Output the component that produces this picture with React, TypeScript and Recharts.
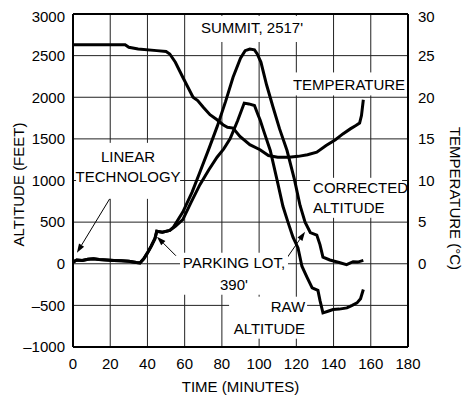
import {
  LineChart,
  Line,
  XAxis,
  YAxis,
  CartesianGrid,
  ReferenceLine,
  ReferenceDot,
} from 'recharts'

const FONT = '"Liberation Sans", Arial, sans-serif'

// ── data ───────────────────────────────────────────────────────────────────

const timeTicks = [0, 20, 40, 60, 80, 100, 120, 140, 160, 180]
const altTicks = [-1000, -500, 0, 500, 1000, 1500, 2000, 2500, 3000]
const tempTicks = [0, 5, 10, 15, 20, 25, 30]

// shared start (ground level + parking lot)
const startTime = [0, 2, 5, 8, 11, 14, 18, 22, 26, 30, 34, 36, 38, 40, 42, 44, 45, 48, 52]
const startAlt = [20, 45, 40, 55, 60, 50, 45, 40, 35, 30, 15, 10, 60, 130, 210, 300, 390, 380, 400]

const corrTime = [54, 59, 64, 68, 73, 77.5, 82, 86, 90, 92.5, 95, 97.5, 99, 101, 104, 107.5, 111, 115, 119, 122, 124.7, 127.5, 131, 132.7, 134.3, 138, 143, 147, 150.5, 153, 156]
const corrAlt = [440, 620, 860, 1090, 1380, 1650, 1950, 2240, 2470, 2560, 2580, 2570, 2520, 2420, 2150, 1880, 1620, 1360, 1010, 700, 500, 375, 345, 230, 80, 45, 15, -10, 25, 20, 40]

const rawTime = [55, 59, 63.5, 68.2, 73, 77.4, 81, 84.4, 88.5, 92, 94.5, 97.5, 99.4, 100.5, 103, 106, 109.6, 112.8, 115.5, 118.2, 120.9, 123, 125.7, 128.5, 131.6, 132.7, 134.3, 137, 139.7, 143, 147.2, 150, 152.6, 154.5, 156]
const rawAlt = [450, 530, 740, 950, 1130, 1280, 1380, 1500, 1720, 1930, 1920, 1900, 1790, 1730, 1560, 1360, 1010, 690, 500, 320, 190, -30, -160, -290, -320, -440, -590, -570, -550, -545, -530, -500, -470, -420, -310]

const tempTime = [0, 28, 30, 35, 45, 50, 52, 55, 59, 64.5, 67, 70, 73.6, 77.4, 80.6, 83, 86, 89.7, 95, 100.5, 105, 110, 116, 121, 126, 131, 136, 141, 145, 149, 152, 154, 155, 156]
const tempC = [26.3, 26.3, 26.0, 25.8, 25.6, 25.5, 25.2, 24.2, 22.4, 20.0, 19.6, 18.8, 17.9, 17.3, 16.7, 16.4, 16.3, 15.3, 14.3, 13.7, 13.0, 12.8, 12.8, 12.9, 13.1, 13.4, 14.2, 14.9, 15.6, 16.2, 16.6, 16.9, 17.8, 19.7]

const zip = (ts: number[], vs: number[]) => ts.map((t, i) => ({ t, v: vs[i] }))

const correctedData = zip([...startTime, ...corrTime], [...startAlt, ...corrAlt])
const rawData = zip([...startTime, ...rawTime], [...startAlt, ...rawAlt])
const tempData = zip(tempTime, tempC)

const minus = (v: number) => String(v).replace('-', '\u2013')

// ── annotation helpers ─────────────────────────────────────────────────────

type Block = {
  lines: string[]
  anchor: 'start' | 'middle' | 'end'
  gap: number
  box: { dx: number; dy: number; w: number; h: number }
}

function textBlock({ lines, anchor, gap, box }: Block) {
  return (p: any) => {
    const { cx, cy } = p
    const y0 = cy - ((lines.length - 1) * gap) / 2
    return (
      <g>
        <rect x={cx + box.dx} y={cy + box.dy} width={box.w} height={box.h} fill="#fff" />
        {lines.map((s, i) => (
          <text
            key={i}
            x={cx}
            y={y0 + i * gap}
            textAnchor={anchor}
            dominantBaseline="central"
            fontSize={15}
            fontFamily={FONT}
            fill="#000"
          >
            {s}
          </text>
        ))}
      </g>
    )
  }
}

function arrow(p: any) {
  const { x1, y1, x2, y2 } = p
  const a = Math.atan2(y2 - y1, x2 - x1)
  const L = 9
  const W = 3
  const bx = x2 - L * Math.cos(a)
  const by = y2 - L * Math.sin(a)
  const pts = [
    [x2, y2],
    [bx + W * Math.sin(a), by - W * Math.cos(a)],
    [bx - W * Math.sin(a), by + W * Math.cos(a)],
  ]
  return (
    <g>
      <line x1={x1} y1={y1} x2={bx} y2={by} stroke="#000" strokeWidth={1} />
      <polygon points={pts.map((q) => q.join(',')).join(' ')} fill="#000" />
    </g>
  )
}

export default function App() {
  return (
    <div style={{ width: 464, height: 394, fontFamily: FONT }}>
      <LineChart
        width={464}
        height={394}
        margin={{ top: 6, right: 0, left: 0, bottom: 0 }}
      >
        <CartesianGrid
          yAxisId="left"
          stroke="#222"
          strokeWidth={1}
          horizontalValues={altTicks}
          verticalValues={timeTicks}
        />
        <XAxis
          dataKey="t"
          type="number"
          domain={[0, 180]}
          ticks={timeTicks}
          allowDuplicatedCategory={false}
          height={55}
          tickLine={false}
          tickSize={6}
          tickMargin={5}
          axisLine={{ stroke: '#000', strokeWidth: 2 }}
          tick={{ fill: '#000', fontSize: 15, fontFamily: FONT }}
          label={{
            value: 'TIME (MINUTES)',
            position: 'insideBottom',
            offset: 10,
            fill: '#000',
            fontSize: 15,
            fontFamily: FONT,
          }}
        />
        <YAxis
          yAxisId="left"
          domain={[-1000, 3000]}
          ticks={altTicks}
          tickFormatter={minus}
          width={65}
          tickLine={false}
          tickSize={6}
          tickMargin={2}
          axisLine={{ stroke: '#000', strokeWidth: 2 }}
          tick={{ fill: '#000', fontSize: 15, fontFamily: FONT }}
          label={{
            content: (props: any) => {
              const { x, y, height } = props.viewBox
              const cx = x + 10
              const cy = y + height / 2 + 4
              return (
                <text
                  x={cx}
                  y={cy}
                  transform={`rotate(-90 ${cx} ${cy})`}
                  textAnchor="middle"
                  dominantBaseline="central"
                  fontSize={15}
                  fontFamily={FONT}
                  fill="#000"
                >
                  ALTITUDE (FEET)
                </text>
              )
            },
          }}
        />
        <YAxis
          yAxisId="right"
          orientation="right"
          domain={[-10, 30]}
          ticks={tempTicks}
          width={64}
          tickLine={false}
          tickSize={6}
          tickMargin={4}
          axisLine={{ stroke: '#000', strokeWidth: 2 }}
          tick={{ fill: '#000', fontSize: 15, fontFamily: FONT, textAnchor: 'start' }}
          label={{
            content: (props: any) => {
              const { x, y, height } = props.viewBox
              const cx = x + 47
              const cy = y + height / 2 + 18
              return (
                <text
                  x={cx}
                  y={cy}
                  transform={`rotate(90 ${cx} ${cy})`}
                  textAnchor="middle"
                  dominantBaseline="central"
                  fontSize={15}
                  fontFamily={FONT}
                  fill="#000"
                >
                  TEMPERATURE (°C)
                </text>
              )
            },
          }}
        />
        <ReferenceLine yAxisId="left" y={3000} stroke="#000" strokeWidth={2} />

        {/* label boxes (white backgrounds break the grid) */}
        <ReferenceDot
          yAxisId="left"
          x={96.2}
          y={2832}
          r={0}
          shape={textBlock({ lines: ["SUMMIT, 2517'"], anchor: 'middle', gap: 0, box: { dx: -58, dy: -12, w: 116, h: 26 } })}
        />
        <ReferenceDot
          yAxisId="left"
          x={148.3}
          y={2154}
          r={0}
          shape={textBlock({ lines: ['TEMPERATURE'], anchor: 'middle', gap: 0, box: { dx: -57, dy: -12, w: 114, h: 23 } })}
        />
        <ReferenceDot
          yAxisId="left"
          x={29.6}
          y={1164}
          r={0}
          shape={textBlock({ lines: ['LINEAR', 'TECHNOLOGY'], anchor: 'middle', gap: 20, box: { dx: -52, dy: -24, w: 104, h: 56 } })}
        />
        <ReferenceDot
          yAxisId="left"
          x={86.5}
          y={-120}
          r={0}
          shape={textBlock({ lines: ['PARKING LOT,', "390'"], anchor: 'middle', gap: 22, box: { dx: -54, dy: -21, w: 108, h: 42 } })}
        />
        <ReferenceDot
          yAxisId="left"
          x={129}
          y={792}
          r={0}
          shape={textBlock({ lines: ['CORRECTED', 'ALTITUDE'], anchor: 'start', gap: 20, box: { dx: -3, dy: -20, w: 92, h: 40 } })}
        />
        <ReferenceDot
          yAxisId="left"
          x={124.7}
          y={-648}
          r={0}
          shape={textBlock({ lines: ['RAW', 'ALTITUDE'], anchor: 'end', gap: 22, box: { dx: -76, dy: -21, w: 78, h: 42 } })}
        />

        {/* arrows */}
        <ReferenceLine yAxisId="left" segment={[{ x: 22, y: 864 }, { x: 2.1, y: 132 }]} shape={arrow} />
        <ReferenceLine yAxisId="left" segment={[{ x: 55.3, y: 96 }, { x: 45.1, y: 324 }]} shape={arrow} />
        <ReferenceLine yAxisId="left" segment={[{ x: 113.9, y: 36 }, { x: 124.7, y: 384 }]} shape={arrow} />

        <Line
          yAxisId="left"
          data={correctedData}
          dataKey="v"
          type="linear"
          stroke="#000"
          strokeWidth={3}
          dot={false}
          isAnimationActive={false}
        />
        <Line
          yAxisId="left"
          data={rawData}
          dataKey="v"
          type="linear"
          stroke="#000"
          strokeWidth={3}
          dot={false}
          isAnimationActive={false}
        />
        <Line
          yAxisId="right"
          data={tempData}
          dataKey="v"
          type="linear"
          stroke="#000"
          strokeWidth={3}
          dot={false}
          isAnimationActive={false}
        />
      </LineChart>
    </div>
  )
}
